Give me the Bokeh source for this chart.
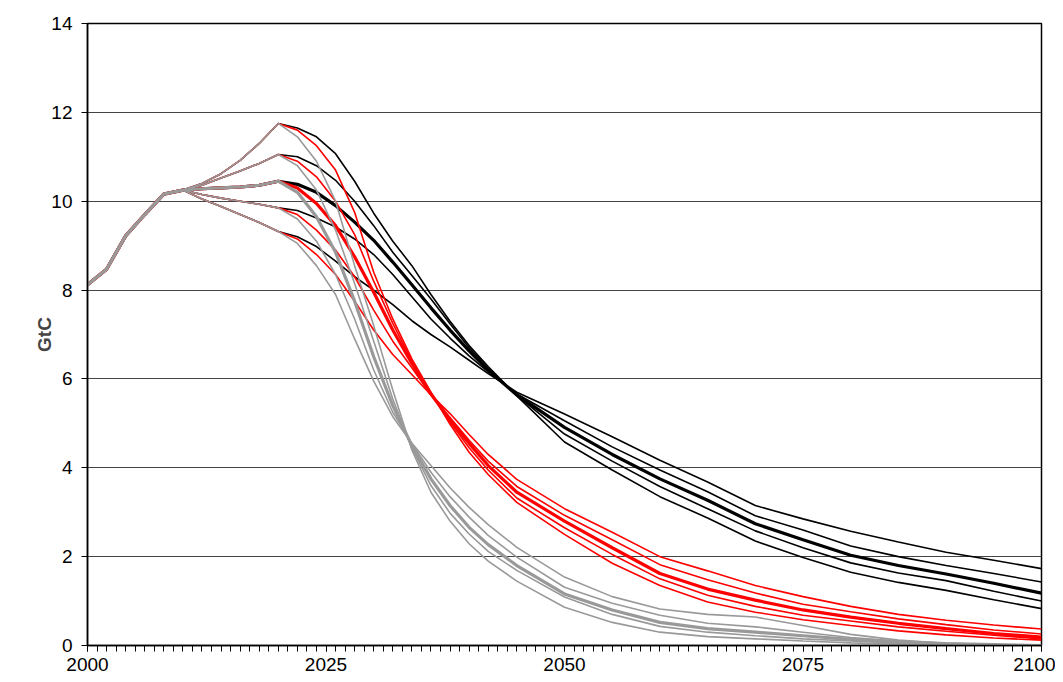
from bokeh.plotting import figure
from bokeh.models import Range1d, FixedTicker
from bokeh.embed import file_html
from bokeh.resources import INLINE

# ---- data (GtC) ----
hist_years = [2000, 2002, 2004, 2006, 2008, 2010]
hist_vals = [8.12, 8.47, 9.22, 9.70, 10.16, 10.25]

peak_years = [2012, 2014, 2016, 2018, 2020]
peak_1 = [10.40, 10.62, 10.92, 11.30, 11.75]
peak_2 = [10.36, 10.52, 10.68, 10.85, 11.05]
peak_3 = [10.28, 10.30, 10.32, 10.36, 10.45]
peak_4 = [10.15, 10.07, 10.00, 9.93, 9.85]
peak_5 = [10.05, 9.88, 9.70, 9.52, 9.32]

fut_years = [2022, 2024, 2026, 2028, 2030, 2032, 2034, 2036, 2038, 2040, 2042, 2045,
             2050, 2055, 2060, 2065, 2070, 2075, 2080, 2085, 2090, 2095, 2100]

black_1 = [11.65, 11.45, 11.07, 10.45, 9.73, 9.10, 8.55, 7.90, 7.30, 6.75, 6.28, 5.62,
           4.58, 3.95, 3.35, 2.87, 2.35, 1.98, 1.65, 1.42, 1.24, 1.03, 0.83]
black_2 = [11.00, 10.80, 10.47, 10.00, 9.45, 8.85, 8.33, 7.80, 7.24, 6.70, 6.24, 5.63,
           4.76, 4.15, 3.58, 3.08, 2.58, 2.20, 1.86, 1.63, 1.46, 1.22, 1.00]
black_3 = [10.38, 10.20, 9.90, 9.53, 9.12, 8.63, 8.12, 7.60, 7.10, 6.63, 6.20, 5.64,
           4.91, 4.30, 3.75, 3.27, 2.74, 2.38, 2.03, 1.80, 1.61, 1.40, 1.18]
black_4 = [9.79, 9.62, 9.42, 9.15, 8.80, 8.35, 7.85, 7.35, 6.92, 6.52, 6.16, 5.66,
           5.06, 4.47, 3.95, 3.46, 2.92, 2.60, 2.24, 2.00, 1.80, 1.62, 1.43]
black_5 = [9.20, 8.98, 8.65, 8.30, 8.00, 7.67, 7.31, 7.00, 6.72, 6.42, 6.12, 5.70,
           5.21, 4.70, 4.17, 3.68, 3.15, 2.85, 2.57, 2.33, 2.10, 1.92, 1.73]

red_1 = [11.60, 11.25, 10.70, 9.75, 8.40, 7.35, 6.45, 5.70, 4.98, 4.35, 3.85, 3.22,
         2.50, 1.85, 1.35, 0.98, 0.75, 0.58, 0.45, 0.33, 0.24, 0.17, 0.12]
red_2 = [10.90, 10.55, 10.00, 9.25, 8.20, 7.25, 6.40, 5.68, 5.03, 4.45, 3.95, 3.32,
         2.65, 2.05, 1.50, 1.13, 0.88, 0.68, 0.55, 0.42, 0.32, 0.23, 0.15]
red_3 = [10.30, 9.95, 9.45, 8.75, 7.95, 7.10, 6.35, 5.66, 5.08, 4.55, 4.05, 3.45,
         2.80, 2.20, 1.62, 1.27, 1.02, 0.80, 0.64, 0.50, 0.38, 0.27, 0.19]
red_4 = [9.70, 9.35, 8.90, 8.30, 7.55, 6.85, 6.25, 5.64, 5.13, 4.62, 4.15, 3.58,
         2.93, 2.38, 1.82, 1.48, 1.18, 0.93, 0.76, 0.60, 0.47, 0.35, 0.26]
red_5 = [9.15, 8.80, 8.35, 7.75, 7.10, 6.55, 6.10, 5.64, 5.22, 4.75, 4.30, 3.74,
         3.08, 2.55, 2.00, 1.68, 1.35, 1.10, 0.88, 0.70, 0.57, 0.46, 0.37]

grey_1 = [11.45, 10.90, 10.00, 8.55, 7.20, 5.75, 4.40, 3.45, 2.80, 2.29, 1.90, 1.45,
          0.86, 0.52, 0.30, 0.20, 0.15, 0.10, 0.06, 0.03, 0.01, 0.00, 0.00]
grey_2 = [10.80, 10.25, 9.35, 8.15, 6.85, 5.55, 4.45, 3.60, 2.98, 2.51, 2.12, 1.69,
          1.09, 0.70, 0.43, 0.30, 0.22, 0.15, 0.10, 0.05, 0.03, 0.01, 0.00]
grey_3 = [10.20, 9.65, 8.85, 7.75, 6.50, 5.40, 4.50, 3.75, 3.15, 2.66, 2.27, 1.80,
          1.16, 0.80, 0.52, 0.38, 0.30, 0.22, 0.14, 0.08, 0.04, 0.02, 0.00]
grey_4 = [9.60, 9.10, 8.35, 7.35, 6.20, 5.25, 4.55, 3.90, 3.35, 2.89, 2.48, 1.99,
          1.31, 0.95, 0.68, 0.50, 0.42, 0.30, 0.18, 0.10, 0.05, 0.02, 0.00]
grey_5 = [9.05, 8.55, 7.90, 6.90, 5.95, 5.15, 4.55, 4.05, 3.55, 3.11, 2.72, 2.21,
          1.54, 1.10, 0.82, 0.70, 0.64, 0.45, 0.25, 0.12, 0.05, 0.02, 0.00]

y_ticks = [0, 2, 4, 6, 8, 10, 12, 14]
x_ticks = [2000, 2025, 2050, 2075, 2100]

# ---- figure ----
FONT = "Liberation Sans"
p = figure(width=1055, height=680, output_backend="svg", toolbar_location=None,
           x_range=Range1d(2000, 2100), y_range=Range1d(0, 14),
           min_border_left=87, min_border_right=14, min_border_top=23, min_border_bottom=35)
p.background_fill_color = "white"
p.border_fill_color = "white"
p.outline_line_color = "black"
p.outline_line_width = 1.5

all_years = hist_years + peak_years + fut_years
peaks = [peak_1, peak_2, peak_3, peak_4, peak_5]
groups = [
    ("black", [black_1, black_2, black_3, black_4, black_5]),
    ("#ff0000", [red_1, red_2, red_3, red_4, red_5]),
    ("#999999", [grey_1, grey_2, grey_3, grey_4, grey_5]),
]
for color, series in groups:
    central = None
    for i, fut in enumerate(series):
        ys = hist_vals + peaks[i] + fut
        if i == 2:
            central = ys
        else:
            p.line(all_years, ys, line_color=color, line_width=1.6)
    p.line(all_years, central, line_color=color, line_width=3.2)

# axes
p.xaxis.ticker = FixedTicker(ticks=x_ticks, minor_ticks=list(range(2000, 2101)))
p.yaxis.ticker = FixedTicker(ticks=y_ticks)
for ax in (p.xaxis[0], p.yaxis[0]):
    ax.axis_line_color = "black"
    ax.axis_line_width = 1.5
    ax.major_tick_line_color = "black"
    ax.major_tick_line_width = 1
    ax.major_tick_out = 6
    ax.major_tick_in = 0
    ax.major_label_text_font = FONT
    ax.major_label_text_font_size = "19px"
    ax.major_label_text_color = "black"
p.xaxis.minor_tick_line_color = "black"
p.xaxis.minor_tick_out = 6
p.xaxis.minor_tick_in = 0
p.yaxis.minor_tick_line_color = None
p.xaxis.major_label_standoff = 6
p.yaxis.major_label_standoff = 9
p.yaxis.axis_label = "GtC"
p.yaxis.axis_label_text_font = FONT
p.yaxis.axis_label_text_font_style = "bold"
p.yaxis.axis_label_text_font_size = "19px"
p.yaxis.axis_label_standoff = -7

p.xgrid.grid_line_color = None
p.ygrid.ticker = FixedTicker(ticks=y_ticks)
p.ygrid.grid_line_color = "#444444"
p.ygrid.grid_line_width = 1

open("out.html", "w").write(file_html(p, INLINE))
